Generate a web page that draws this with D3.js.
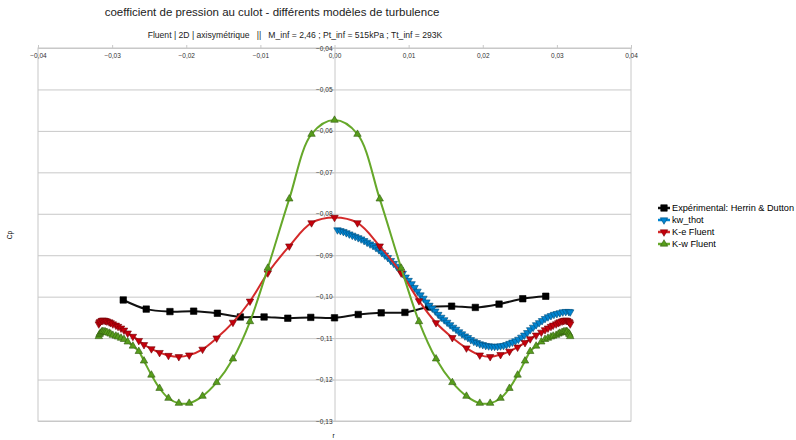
<!DOCTYPE html>
<html>
<head>
  <meta charset="utf-8" />
  <title>coefficient de pression au culot</title>
  <style>
    body { margin:0; background:#fff; }
    text { font-family:"Liberation Sans", Arial, sans-serif; fill:#000; }
    .tick text { font-size:6.5px; fill:#333; }
    .grid line { stroke:#c8c8c8; stroke-width:1; }
    .grid path { display:none; }
  </style>
</head>
<body>
  <div id="container"></div>
  <script src="https://d3js.org/d3.v7.min.js"></script>
  <script>

// experimental points (Herrin & Dutton)
const rExp  = [-0.0285,-0.0254,-0.0222,-0.0190,-0.0158,-0.0127,-0.0095,-0.0063,-0.0032,0,
               0.0032,0.0063,0.0095,0.0127,0.0158,0.0190,0.0222,0.0254,0.0285];
const cpExp = [-0.1008,-0.1030,-0.1036,-0.1035,-0.1040,-0.1049,-0.1049,-0.1052,-0.1050,-0.1051,
               -0.1043,-0.1039,-0.1038,-0.1025,-0.1023,-0.1026,-0.1018,-0.1005,-0.0999];

// kw_thot (only r > 0)
const rThot  = [0.0004,0.0008,0.0012,0.0016,0.0020,0.0024,0.0028,0.0032,0.0036,0.0040,
                0.0044,0.0048,0.0052,0.0056,0.0060,0.0064,0.0068,0.0072,0.0076,0.0080,
                0.0084,0.0088,0.0092,0.0096,0.0100,0.0104,0.0108,0.0112,0.0116,0.0120,
                0.0124,0.0128,0.0132,0.0136,0.0140,0.0144,0.0148,0.0152,0.0156,0.0160,
                0.0164,0.0168,0.0172,0.0176,0.0180,0.0184,0.0188,0.0192,0.0196,0.0200,
                0.0204,0.0208,0.0212,0.0216,0.0220,0.0224,0.0228,0.0232,0.0236,0.0240,
                0.0244,0.0248,0.0252,0.0256,0.0260,0.0264,0.0268,0.0272,0.0276,0.0280,
                0.0284,0.0288,0.0292,0.0296,0.0300,0.0304,0.0308,0.0312,0.0316,0.0318];
const cpThot = [-0.0839,-0.0841,-0.0843,-0.0846,-0.0849,-0.0852,-0.0855,-0.0858,-0.0861,-0.0865,
                -0.0869,-0.0873,-0.0877,-0.0882,-0.0887,-0.0894,-0.0900,-0.0906,-0.0913,-0.0920,
                -0.0927,-0.0935,-0.0944,-0.0953,-0.0961,-0.0969,-0.0978,-0.0987,-0.0996,-0.1004,
                -0.1013,-0.1021,-0.1028,-0.1035,-0.1043,-0.1050,-0.1056,-0.1062,-0.1068,-0.1074,
                -0.1079,-0.1085,-0.1090,-0.1095,-0.1099,-0.1104,-0.1108,-0.1111,-0.1114,-0.1116,
                -0.1118,-0.1119,-0.1120,-0.1120,-0.1120,-0.1119,-0.1118,-0.1116,-0.1113,-0.1110,
                -0.1107,-0.1103,-0.1098,-0.1093,-0.1087,-0.1080,-0.1074,-0.1068,-0.1063,-0.1058,
                -0.1053,-0.1049,-0.1046,-0.1043,-0.1041,-0.1039,-0.1037,-0.1036,-0.1036,-0.1037];

// Fluent mesh (same r for K-e and K-w)
const rFluent = [-0.0318,-0.0317,-0.0316,-0.0314,-0.0313,-0.0311,-0.0309,-0.0307,-0.0304,-0.0302,
                 -0.0299,-0.0295,-0.0292,-0.0288,-0.0284,-0.0279,-0.0272,-0.0264,-0.0257,-0.0247,
                 -0.0236,-0.0224,-0.0210,-0.0196,-0.0178,-0.0159,-0.0137,-0.0114,-0.0090,-0.0061,
                 -0.0031,0,
                 0.0031,0.0061,0.0090,0.0114,0.0137,0.0159,0.0178,0.0196,0.0210,0.0224,
                 0.0236,0.0247,0.0257,0.0264,0.0272,0.0279,0.0284,0.0288,0.0292,0.0295,
                 0.0299,0.0302,0.0304,0.0307,0.0309,0.0311,0.0313,0.0314,0.0316,0.0317,0.0318];
const cpKe = [-0.1066,-0.1062,-0.1060,-0.1058,-0.1057,-0.1057,-0.1058,-0.1059,-0.1061,-0.1063,
              -0.1066,-0.1069,-0.1072,-0.1076,-0.1081,-0.1088,-0.1096,-0.1106,-0.1116,-0.1126,
              -0.1135,-0.1142,-0.1145,-0.1141,-0.1127,-0.1100,-0.1062,-0.1011,-0.0943,-0.0878,
              -0.0822,-0.0809,
              -0.0822,-0.0878,-0.0943,-0.1010,-0.1063,-0.1099,-0.1124,-0.1141,-0.1145,-0.1140,
              -0.1132,-0.1122,-0.1111,-0.1102,-0.1093,-0.1086,-0.1080,-0.1076,-0.1072,-0.1069,
              -0.1066,-0.1063,-0.1061,-0.1059,-0.1058,-0.1057,-0.1057,-0.1058,-0.1060,-0.1062,-0.1066];
const cpKw = [-0.1096,-0.1091,-0.1088,-0.1085,-0.1084,-0.1084,-0.1085,-0.1086,-0.1088,-0.1090,
              -0.1093,-0.1095,-0.1097,-0.1100,-0.1103,-0.1109,-0.1119,-0.1132,-0.1155,-0.1189,
              -0.1221,-0.1245,-0.1257,-0.1257,-0.1240,-0.1207,-0.1150,-0.1060,-0.0931,-0.0764,
              -0.0608,-0.0574,
              -0.0608,-0.0764,-0.0931,-0.1060,-0.1150,-0.1207,-0.1240,-0.1257,-0.1257,-0.1245,
              -0.1221,-0.1189,-0.1155,-0.1132,-0.1119,-0.1109,-0.1103,-0.1100,-0.1097,-0.1095,
              -0.1093,-0.1090,-0.1088,-0.1086,-0.1085,-0.1084,-0.1084,-0.1085,-0.1088,-0.1091,-0.1096];

const xTicks = [-0.04,-0.03,-0.02,-0.01,0,0.01,0.02,0.03,0.04];
const yTicks = [-0.04,-0.05,-0.06,-0.07,-0.08,-0.09,-0.10,-0.11,-0.12,-0.13];

const seriesNames = ["Expérimental: Herrin & Dutton","kw_thot","K-e Fluent","K-w Fluent"];

var w = 796, h = 440;
var fr = d3.formatLocale({decimal:",", thousands:" ", grouping:[3], currency:["","€"]});
var fmt = fr.format(".2f");

var svg = d3.select("#container").append("svg")
  .attr("width", w).attr("height", h);

var x = d3.scaleLinear().domain([-0.04, 0.04]).range([38, 631]);
var y = d3.scaleLinear().domain([-0.13, -0.04]).range([421, 48]);

// titles
svg.append("text").attr("x", 272).attr("y", 16).attr("text-anchor", "middle")
  .style("font-size", "11.5px").style("fill", "#222")
  .text("coefficient de pression au culot - différents modèles de turbulence");
svg.append("text").attr("x", 295).attr("y", 38).attr("text-anchor", "middle")
  .style("font-size", "8.6px").style("fill", "#222").attr("xml:space", "preserve")
  .text("Fluent | 2D | axisymétrique   ||   M_inf = 2,46 ; Pt_inf = 515kPa ; Tt_inf = 293K");

// horizontal grid
svg.append("g").attr("class", "grid")
  .attr("transform", "translate(" + x(-0.04) + ",0)")
  .call(d3.axisRight(y).tickValues(yTicks).tickSize(x(0.04) - x(-0.04)).tickFormat(""));

// frame
svg.append("rect").attr("x", x(-0.04)).attr("y", y(-0.04))
  .attr("width", x(0.04) - x(-0.04)).attr("height", y(-0.13) - y(-0.04))
  .attr("fill", "none").attr("stroke", "#c8c8c8");

// x axis at the top (crosses at cp = -0.04)
var xa = svg.append("g").attr("transform", "translate(0," + y(-0.04) + ")")
  .call(d3.axisTop(x).tickValues(xTicks).tickSize(3).tickFormat(fmt));
xa.select(".domain").attr("stroke", "#c8c8c8");
xa.selectAll(".tick line").attr("stroke", "#c8c8c8");
xa.selectAll(".tick text").attr("y", 10).attr("dy", "0");

// y axis at r = 0
var ya = svg.append("g").attr("transform", "translate(" + x(0) + ",0)")
  .call(d3.axisLeft(y).tickValues(yTicks).tickSize(3).tickFormat(fmt));
ya.select(".domain").attr("stroke", "#c8c8c8");
ya.selectAll(".tick line").attr("stroke", "#c8c8c8");
ya.selectAll(".tick text").attr("x", -2);

// axis titles
svg.append("text").attr("transform", "translate(12,235) rotate(-90)")
  .attr("text-anchor", "middle").style("font-size", "6.5px").text("Cp");
svg.append("text").attr("x", x(0) - 1).attr("y", 438)
  .attr("text-anchor", "middle").style("font-size", "6.5px").text("r");

var series = [
  {name: seriesNames[0], r: rExp,    cp: cpExp,  color: "#000000", line: "#111111", sym: d3.symbolSquare,   size: 42, rot: 0},
  {name: seriesNames[1], r: rThot,   cp: cpThot, color: "#0084d1", line: "#0084d1", sym: d3.symbolTriangle, size: 24, rot: 180},
  {name: seriesNames[2], r: rFluent, cp: cpKe,   color: "#c5000b", line: "#d42a2a", sym: d3.symbolTriangle, size: 24, rot: 180},
  {name: seriesNames[3], r: rFluent, cp: cpKw,   color: "#579d1c", line: "#66a82a", sym: d3.symbolTriangle, size: 24, rot: 0}
];

var line = d3.line().curve(d3.curveCatmullRom.alpha(0.5))
  .x(function(d) { return x(d[0]); })
  .y(function(d) { return y(d[1]); });

var plot = svg.append("g");
series.forEach(function(s) {
  var pts = s.r.map(function(r, i) { return [r, s.cp[i]]; });
  plot.append("path").datum(pts)
    .attr("fill", "none").attr("stroke", s.line).attr("stroke-width", 2)
    .attr("d", line);
  plot.append("g").selectAll("path").data(pts).join("path")
    .attr("transform", function(d) { return "translate(" + x(d[0]) + "," + y(d[1]) + ") rotate(" + s.rot + ")"; })
    .attr("d", d3.symbol().type(s.sym).size(s.size))
    .attr("fill", s.color)
    .attr("stroke", d3.color(s.color).darker(1.5))
    .attr("stroke-width", 0.6);
});

// legend
var lg = svg.append("g").attr("transform", "translate(658,208)");
series.forEach(function(s, i) {
  var g = lg.append("g").attr("transform", "translate(0," + (i * 12) + ")");
  g.append("line").attr("x1", 0).attr("x2", 12).attr("stroke", s.line).attr("stroke-width", 2.5);
  g.append("path").attr("transform", "translate(6,0) rotate(" + s.rot + ")")
    .attr("d", d3.symbol().type(s.sym).size(s.size))
    .attr("fill", s.color).attr("stroke", d3.color(s.color).darker(1.5)).attr("stroke-width", 0.6);
  g.append("text").attr("x", 14).attr("y", 3.3).style("font-size", "9.2px").text(s.name);
});
  </script>
</body>
</html>
